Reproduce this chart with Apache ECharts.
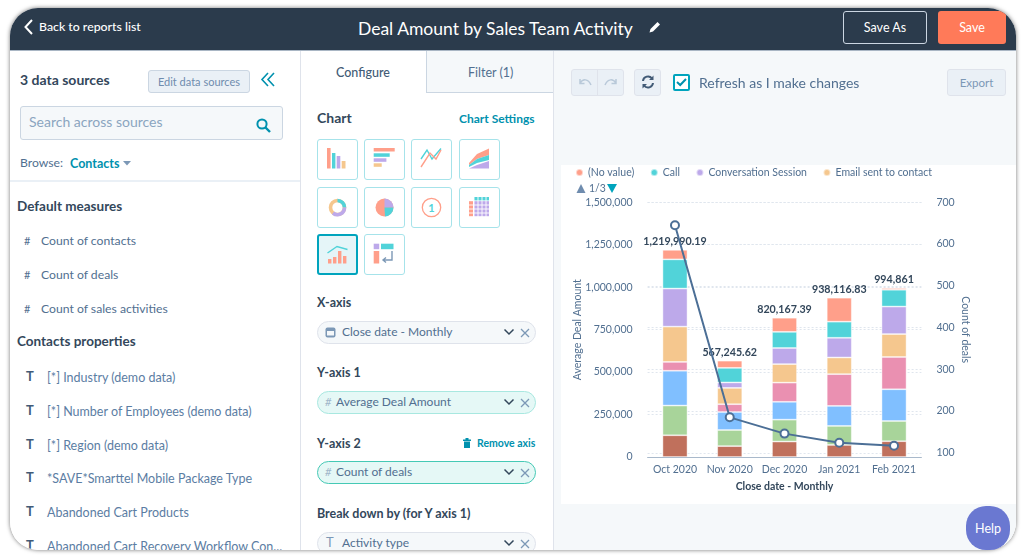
<!DOCTYPE html>
<html>
<head>
<meta charset="utf-8">
<title>Deal Amount by Sales Team Activity</title>
<script src="https://cdn.jsdelivr.net/npm/echarts@6/dist/echarts.min.js"></script>
<style>
  html, body { margin: 0; padding: 0; width: 1024px; height: 560px; background: #fff; overflow: hidden; }
  body { font-family: Lato, "Open Sans", sans-serif; color: #33475b; }
  .shadow { position: absolute; left: 10px; top: 8px; width: 1006px; height: 542px; border-radius: 28px; box-shadow: 0 0 4px rgba(0,0,0,.55); }
  .app { position: absolute; left: 0; top: 0; width: 1024px; height: 560px; background: #fff; clip-path: inset(8px 8px 10px 10px round 28px); }
  .box { position: absolute; box-sizing: border-box; }
  .t { position: absolute; white-space: nowrap; transform: translateY(-50%); line-height: 1.2; }
  .h { font-weight: 700; font-size: 13.5px; color: #33475b; }
  .lbl { font-weight: 700; font-size: 12.5px; color: #33475b; left: 317px; }
  .row { font-size: 12.2px; color: #516f90; }
  .prop { font-size: 12.5px; color: #5b7da3; left: 47px; }
  .T { font-size: 13px; font-weight: 700; color: #425b76; left: 26px; }
  .link { color: #0091ae; font-weight: 700; }
  .btn { position: absolute; box-sizing: border-box; display: flex; align-items: center; justify-content: center; border-radius: 3px; }
  .grey { background: #eaf0f6; border: 1px solid #cbd6e2; color: #6f8cae; }
  .pill { position: absolute; box-sizing: border-box; left: 317px; width: 219px; height: 23px; border-radius: 12px; background: #f5f8fa; border: 1px solid #dfe3eb; }
  .mint { background: #e5f8f6; border-color: #a8e8e0; }
  .mint2 { background: #e5f8f6; border: 1.5px solid #45c9b5; }
  .ic { position: absolute; box-sizing: border-box; width: 41px; height: 41px; border: 1.5px solid #a6e3ea; border-radius: 3px; background: #fff; }
  .ic svg { position: absolute; left: -1.5px; top: -1.5px; width: 41px; height: 41px; }
  .sel { background: #e5f5f8; border: 2px solid #00a4bd; }
  .sel svg { left: -2px; top: -2px; }
  svg.i { position: absolute; overflow: visible; }
  #chart { position: absolute; left: 561px; top: 165px; width: 455px; height: 339px; background: #fff; }
</style>
</head>
<body>
<div class="shadow"></div>
<div class="app">
  <!-- right side background -->
  <div class="box" style="left:553px;top:51px;width:471px;height:509px;background:#f5f8fa"></div>
  <div id="chart"></div>

  <!-- header -->
  <div class="box" style="left:0;top:0;width:1024px;height:51px;background:#2b3b4c;border-bottom:1px solid #a9b6c4"></div>
  <svg class="i" style="left:24px;top:19px" width="9" height="16"><path d="M8 1L1.5 8L8 15" fill="none" stroke="#fff" stroke-width="2"/></svg>
  <div class="t" style="left:39px;top:27px;color:#fff;font-size:12.3px;font-weight:500">Back to reports list</div>
  <div class="t" style="left:358px;top:28px;color:#fff;font-size:17.5px">Deal Amount by Sales Team Activity</div>
  <svg class="i" style="left:649px;top:21px" width="12" height="12" viewBox="0 0 12 12"><path d="M0.5 11.5L1.5 8L8.5 1L11 3.5L4 10.5Z" fill="#fff"/></svg>
  <div class="btn" style="left:843px;top:11px;width:84px;height:33px;border:1px solid #cbd6e2;color:#fff;font-size:12.5px">Save As</div>
  <div class="btn" style="left:938px;top:11px;width:68px;height:33px;background:#ff7a59;color:#fff;font-size:12.5px">Save</div>

  <!-- left panel -->
  <div class="box" style="left:300px;top:51px;width:1px;height:509px;background:#dfe3eb"></div>
  <div class="t" style="left:20px;top:80px;font-size:14px;font-weight:700">3 data sources</div>
  <div class="btn grey" style="left:148px;top:70px;width:102px;height:23px;font-size:11px">Edit data sources</div>
  <svg class="i" style="left:261px;top:72px" width="14" height="15"><path d="M7 1L1 7.5L7 14M13 1L7 7.5L13 14" fill="none" stroke="#0091ae" stroke-width="1.6"/></svg>
  <div class="box" style="left:20px;top:106px;width:263px;height:34px;background:#f5f8fa;border:1px solid #cbd6e2;border-radius:3px"></div>
  <div class="t" style="left:29px;top:122px;font-size:14px;color:#8ba5c0">Search across sources</div>
  <svg class="i" style="left:256px;top:118px" width="15" height="15"><circle cx="6" cy="6" r="4.6" fill="none" stroke="#0091ae" stroke-width="2"/><path d="M9.5 9.5L14 14" stroke="#0091ae" stroke-width="2.4"/></svg>
  <div class="t row" style="left:20px;top:163px">Browse:</div>
  <div class="t link" style="left:70px;top:163px;font-size:12.5px">Contacts</div>
  <svg class="i" style="left:123px;top:161px" width="8" height="5"><path d="M0 0H8L4 4.5Z" fill="#7c98b6"/></svg>
  <div class="box" style="left:0;top:180px;width:300px;height:2px;background:#eaf0f6"></div>

  <div class="t h" style="left:17px;top:206px">Default measures</div>
  <div class="t row" style="left:24px;top:241px;font-size:11px">#</div><div class="t row" style="left:41px;top:241px">Count of contacts</div>
  <div class="t row" style="left:24px;top:275px;font-size:11px">#</div><div class="t row" style="left:41px;top:275px">Count of deals</div>
  <div class="t row" style="left:24px;top:309px;font-size:11px">#</div><div class="t row" style="left:41px;top:309px">Count of sales activities</div>
  <div class="t h" style="left:17px;top:341px">Contacts properties</div>
  <div class="t T" style="top:377px">T</div><div class="t prop" style="top:377px">[*] Industry (demo data)</div>
  <div class="t T" style="top:411px">T</div><div class="t prop" style="top:411px">[*] Number of Employees (demo data)</div>
  <div class="t T" style="top:445px">T</div><div class="t prop" style="top:445px">[*] Region (demo data)</div>
  <div class="t T" style="top:478px">T</div><div class="t prop" style="top:478px">*SAVE*Smarttel Mobile Package Type</div>
  <div class="t T" style="top:512px">T</div><div class="t prop" style="top:512px">Abandoned Cart Products</div>
  <div class="t T" style="top:546px">T</div><div class="t prop" style="top:546px">Abandoned Cart Recovery Workflow Con...</div>

  <!-- middle panel -->
  <div class="box" style="left:553px;top:51px;width:1px;height:509px;background:#dfe3eb"></div>
  <div class="box" style="left:426px;top:51px;width:127px;height:42px;background:#f5f8fa;border-left:1px solid #cbd6e2;border-bottom:1px solid #cbd6e2"></div>
  <div class="t" style="left:336px;top:72px;font-size:12.5px;font-weight:500;color:#425b76">Configure</div>
  <div class="t" style="left:468px;top:72px;font-size:12.5px;color:#516f90">Filter (1)</div>
  <div class="t" style="left:317px;top:118px;font-size:14px;font-weight:700">Chart</div>
  <div class="t link" style="left:459px;top:119px;font-size:12px">Chart Settings</div>

  <div class="ic" style="left:317px;top:139px"><svg viewBox="0 0 41 41"><rect x="10" y="9" width="3.6" height="20.5" fill="#ff9f8a"/><rect x="15" y="14" width="3.4" height="15.5" fill="#51d3d9"/><rect x="19.7" y="17" width="3.6" height="12.5" fill="#bda9ea"/><rect x="24.7" y="22" width="3.8" height="7.5" fill="#f5c78e"/></svg></div>
  <div class="ic" style="left:364px;top:139px"><svg viewBox="0 0 41 41"><rect x="9.7" y="9" width="21" height="3.5" fill="#ff9f8a"/><rect x="9.7" y="14.3" width="16" height="3.5" fill="#51d3d9"/><rect x="9.7" y="19.3" width="12.7" height="3.5" fill="#bda9ea"/><rect x="9.7" y="24.3" width="8" height="3.5" fill="#f5c78e"/></svg></div>
  <div class="ic" style="left:411px;top:139px"><svg viewBox="0 0 41 41"><path d="M10 20L16 11L21 20L30 9.5" fill="none" stroke="#51d3d9" stroke-width="1.4"/><path d="M10 28L19 14L25 20L30 11" fill="none" stroke="#ff9f8a" stroke-width="1.4"/></svg></div>
  <div class="ic" style="left:459px;top:139px"><svg viewBox="0 0 41 41"><path d="M10 24L18 15L30 9.5V16L18 20L10 26Z" fill="#ff9f8a"/><path d="M10 26L18 20L30 16V21L18 24L10 28Z" fill="#51d3d9"/><path d="M10 29.5L18 26L30 22V29.5Z" fill="#bda9ea"/></svg></div>
  <div class="ic" style="left:317px;top:187px"><svg viewBox="0 0 41 41"><circle cx="20.5" cy="20.5" r="7" fill="none" stroke="#f5c78e" stroke-width="3.6"/><path d="M20.5 13.5A7 7 0 0 1 27.5 20.5" fill="none" stroke="#51d3d9" stroke-width="3.6"/><path d="M27.5 20.5A7 7 0 0 1 16 26" fill="none" stroke="#bda9ea" stroke-width="3.6"/></svg></div>
  <div class="ic" style="left:364px;top:187px"><svg viewBox="0 0 41 41"><circle cx="20.5" cy="20.5" r="9" fill="#ff9f8a"/><path d="M20.5 20.5V11.5A9 9 0 0 1 29.5 20.5Z" fill="#bda9ea"/><path d="M20.5 20.5H29.5A9 9 0 0 1 21 29.5Z" fill="#51d3d9"/></svg></div>
  <div class="ic" style="left:411px;top:187px"><svg viewBox="0 0 41 41"><circle cx="20.5" cy="20.5" r="9.2" fill="none" stroke="#ff9f8a" stroke-width="1.3"/><text x="20.5" y="24.5" text-anchor="middle" font-size="11" font-weight="700" fill="#51d3d9" font-family="Lato">1</text></svg></div>
  <div class="ic" style="left:459px;top:187px"><svg viewBox="0 0 41 41"><rect x="15" y="10" width="15" height="3.4" fill="#51d3d9"/><rect x="10" y="14.2" width="4" height="15" fill="#ff9f8a"/><rect x="15" y="14.2" width="15" height="15" fill="#bda9ea"/><path d="M10 18H30M10 22H30M10 26H30M15 10V30M19 10V30M23 10V30M27 10V30" stroke="#fff" stroke-width=".9"/></svg></div>
  <div class="ic sel" style="left:317px;top:234px"><svg viewBox="0 0 41 41"><path d="M10.5 19L20 12.5L30.5 15.5" fill="none" stroke="#51d3d9" stroke-width="1.4"/><rect x="11" y="25" width="3.4" height="4.5" fill="#ff9f8a"/><rect x="16" y="23" width="3.4" height="6.5" fill="#ff9f8a"/><rect x="21" y="17" width="3.4" height="12.5" fill="#ff9f8a"/><rect x="26" y="22" width="3.4" height="7.5" fill="#ff9f8a"/></svg></div>
  <div class="ic" style="left:364px;top:234px"><svg viewBox="0 0 41 41"><rect x="9.7" y="9.7" width="5.5" height="5.5" fill="#bda9ea"/><rect x="17" y="9.7" width="12.5" height="5.5" fill="#51d3d9"/><rect x="9.7" y="17" width="5.5" height="12.5" fill="#ff9f8a"/><path d="M28 17V26H19M22 23.5L19 26L22 28.5" fill="none" stroke="#7c98b6" stroke-width="1.4"/></svg></div>

  <div class="t lbl" style="top:302px">X-axis</div>
  <div class="pill" style="top:321px"></div>
  <svg class="i" style="left:325px;top:326px" width="11" height="12"><rect x="0.5" y="1.5" width="10" height="10" rx="2" fill="#7c98b6"/><rect x="2" y="5" width="7" height="4.5" fill="#f5f8fa"/></svg>
  <div class="t" style="left:342px;top:332px;font-size:12px;color:#516f90">Close date - Monthly</div>
  <div class="t lbl" style="top:372px">Y-axis 1</div>
  <div class="pill mint" style="top:391px"></div>
  <div class="t" style="left:325px;top:402px;font-size:11px;color:#a0b5c9;font-style:italic">#</div>
  <div class="t" style="left:336px;top:402px;font-size:12px;color:#516f90">Average Deal Amount</div>
  <div class="t lbl" style="top:443px">Y-axis 2</div>
  <svg class="i" style="left:463px;top:438px" width="8" height="10"><path d="M0 1.5H8V3H0ZM1 3.5H7V10H1ZM2.5 0H5.5V1.5H2.5Z" fill="#0091ae"/></svg>
  <div class="t link" style="left:477px;top:443px;font-size:10.5px">Remove axis</div>
  <div class="pill mint2" style="top:461px"></div>
  <div class="t" style="left:325px;top:472px;font-size:11px;color:#a0b5c9;font-style:italic">#</div>
  <div class="t" style="left:336px;top:472px;font-size:12px;color:#516f90">Count of deals</div>
  <div class="t lbl" style="top:513px">Break down by (for Y axis 1)</div>
  <div class="pill" style="top:532px"></div>
  <div class="t" style="left:326px;top:543px;font-size:13px;color:#7c98b6">T</div>
  <div class="t" style="left:342px;top:543px;font-size:12px;color:#516f90">Activity type</div>
  <svg class="i" style="left:0;top:0" width="1024" height="560">
    <g fill="none" stroke="#33475b" stroke-width="1.5"><path d="M504.5 329.5L509 334L513.5 329.5M504.5 399.5L509 404L513.5 399.5M504.5 469.5L509 474L513.5 469.5M504.5 540.5L509 545L513.5 540.5"/></g>
    <g fill="none" stroke="#7c98b6" stroke-width="1.3"><path d="M521 329L529 337M529 329L521 337M521 399L529 407M529 399L521 407M521 469L529 477M529 469L521 477M521 540L529 548M529 540L521 548"/></g>
  </svg>

  <!-- toolbar -->
  <div class="box grey" style="left:571px;top:69px;width:53px;height:27px;border-radius:3px;border-color:#dfe3eb"></div>
  <div class="box" style="left:597px;top:69px;width:1px;height:27px;background:#dfe3eb"></div>
  <svg class="i" style="left:578px;top:77px" width="40" height="12"><path d="M2 6C5 1.5 10 1.5 13 8M2 2V6.5H6.5M38 6C35 1.5 30 1.5 27 8M38 2V6.5H33.5" fill="none" stroke="#b9c9d9" stroke-width="1.5"/></svg>
  <div class="box grey" style="left:634px;top:69px;width:27px;height:27px;border-radius:3px;border-color:#dfe3eb"></div>
  <svg class="i" style="left:641px;top:75px" width="14" height="14"><path d="M2 6A5 5 0 0 1 11 3.5M12 8A5 5 0 0 1 3 10.5" fill="none" stroke="#425b76" stroke-width="2"/><path d="M12.5 0.5V5H8ZM1.5 13.5V9H6Z" fill="#425b76"/></svg>
  <div class="box" style="left:673px;top:74px;width:17px;height:17px;background:#fff;border:2px solid #00a4bd;border-radius:2px"></div>
  <svg class="i" style="left:676px;top:78px" width="11" height="9"><path d="M1 4L4.2 7L10 1" fill="none" stroke="#0091ae" stroke-width="2"/></svg>
  <div class="t" style="left:699px;top:83px;font-size:14px;color:#516f90">Refresh as I make changes</div>
  <div class="btn grey" style="left:947px;top:69px;width:59px;height:27px;font-size:11.5px;border-color:#dfe3eb;color:#7c98b6">Export</div>
</div>
<div class="btn" style="left:966px;top:506px;width:44px;height:44px;border-radius:20px;background:#6a78d1;color:#fff;font-size:12.5px">Help</div>

<script>
const months = ['Oct 2020', 'Nov 2020', 'Dec 2020', 'Jan 2021', 'Feb 2021']

// average deal amount per activity type, bottom of the stack first
const taskValues = [128000, 64000, 91000, 71000, 93000]
const noteValues = [175000, 95000, 129000, 112000, 119000]
const meetingValues = [205000, 106000, 105000, 118000, 187000]
const incomingEmailValues = [52000, 46000, 113000, 187000, 190000]
const emailSentValues = [208000, 96000, 109000, 98000, 135000]
const conversationValues = [224000, 32000, 95000, 116000, 162000]
const callValues = [172000, 86000, 95000, 95000, 99000]
const noValueValues = [55990.19, 42245.62, 83167.39, 141116.83, 9861]

const dealTotals = ['1,219,990.19', '567,245.62', '820,167.39', '938,116.83', '994,861']
const dealCounts = [645, 185, 146, 124, 117]

const countTicks = [100, 200, 300, 400, 500, 600, 700]
const legendNames = ['(No value)', 'Call', 'Conversation Session', 'Email sent to contact']

const stacks = [
  { name: 'Task', data: taskValues, color: '#c0705c' },
  { name: 'Note', data: noteValues, color: '#a8d49a' },
  { name: 'Meeting', data: meetingValues, color: '#80bfff' },
  { name: 'Incoming email', data: incomingEmailValues, color: '#ea90b1' },
  { name: 'Email sent to contact', data: emailSentValues, color: '#f5c78e' },
  { name: 'Conversation Session', data: conversationValues, color: '#bda9ea' },
  { name: 'Call', data: callValues, color: '#51d3d9' },
  { name: '(No value)', data: noValueValues, color: '#ff9f8a' },
]

const fontFamily = 'Lato'
const axisColor = '#516f90'
const gridLine = { show: true, lineStyle: { color: '#e0e6ee', type: [2, 2], width: 1 } }

const barSeries = stacks.map((s, i) => ({
  name: s.name,
  type: 'bar',
  stack: 'deals',
  barWidth: 25,
  data: s.data,
  itemStyle: { color: s.color, borderColor: 'rgba(255,255,255,.55)', borderWidth: 0.8 },
  label: i === stacks.length - 1 ? {
    show: true,
    position: 'top',
    distance: 3,
    fontFamily,
    fontSize: 10.7,
    fontWeight: 700,
    color: '#33475b',
    formatter: p => dealTotals[p.dataIndex],
  } : { show: false },
}))

const chart = echarts.init(document.getElementById('chart'))
chart.setOption({
  animation: false,
  textStyle: { fontFamily },
  legend: {
    data: legendNames,
    left: 14,
    top: 2,
    padding: 0,
    icon: 'circle',
    itemWidth: 7,
    itemHeight: 7,
    itemGap: 15.5,
    textStyle: { fontFamily, fontSize: 10.5, color: axisColor },
  },
  grid: { left: 86.6, top: 37.3, width: 273.8, height: 254.7, outerBoundsMode: 'none' },
  xAxis: {
    type: 'category',
    data: months,
    name: 'Close date - Monthly',
    nameLocation: 'middle',
    nameGap: 24,
    nameTextStyle: { fontFamily, fontSize: 10.5, fontWeight: 700, color: '#33475b' },
    axisLine: { lineStyle: { color: '#a9b9cb', width: 1 } },
    axisTick: { show: false },
    axisLabel: { fontFamily, fontSize: 10.5, color: axisColor, margin: 7, interval: 0 },
  },
  yAxis: [
    {
      type: 'value',
      min: 0,
      max: 1500000,
      interval: 250000,
      name: 'Average Deal Amount',
      nameLocation: 'middle',
      nameGap: 64,
      nameMoveOverlap: false,
      nameTextStyle: { fontFamily, fontSize: 10.5, color: axisColor },
      axisLine: { show: false },
      axisTick: { show: false },
      axisLabel: { fontFamily, fontSize: 10.5, color: axisColor, margin: 15, formatter: v => v.toLocaleString('en-US') },
      splitLine: gridLine,
    },
    {
      type: 'value',
      min: 90,
      max: 700,
      name: 'Count of deals',
      nameLocation: 'middle',
      nameGap: 38,
      nameMoveOverlap: false,
      nameRotate: -90,
      nameTextStyle: { fontFamily, fontSize: 10.5, color: axisColor },
      axisLine: { show: false },
      axisTick: { show: false, customValues: countTicks },
      axisLabel: { fontFamily, fontSize: 10.5, color: axisColor, margin: 15, customValues: countTicks },
      splitLine: gridLine,
    },
  ],
  series: [
    ...barSeries,
    {
      name: 'Count of deals',
      type: 'line',
      yAxisIndex: 1,
      z: 5,
      data: dealCounts,
      symbol: 'circle',
      symbolSize: 8,
      lineStyle: { color: '#4c6f96', width: 2 },
      itemStyle: { color: '#fff', borderColor: '#4c6f96', borderWidth: 2 },
    },
  ],
  graphic: [
    { type: 'polygon', shape: { points: [[20, 19], [15.5, 28], [24.5, 28]] }, style: { fill: '#6f8cae' } },
    { type: 'text', x: 28, y: 18, style: { text: '1/3', font: '10.5px Lato', fill: axisColor } },
    { type: 'polygon', shape: { points: [[46, 19], [56, 19], [51, 28]] }, style: { fill: '#00a4bd' } },
  ],
})
</script>
</body>
</html>
